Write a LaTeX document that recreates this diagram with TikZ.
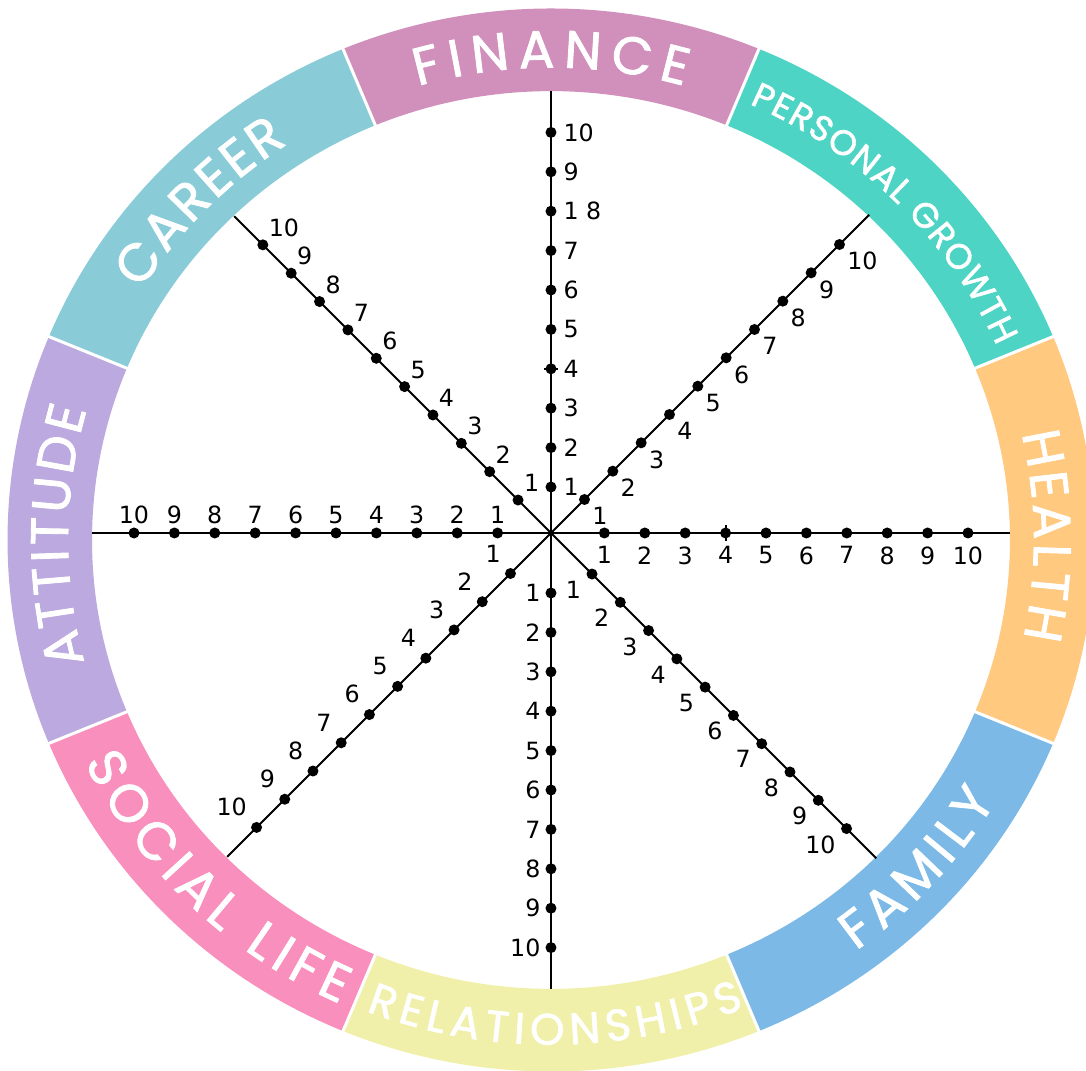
\documentclass[tikz,border=0pt]{standalone}
\usepackage{fontspec}
\usetikzlibrary{decorations.text}
\newfontfamily\ringfont[FakeBold=1.6]{Poppins}
\newfontfamily\numfont{DejaVu Sans}
\definecolor{cfin}{HTML}{D18FBB}
\definecolor{cgrowth}{HTML}{4ED4C4}
\definecolor{chealth}{HTML}{FFC980}
\definecolor{cfamily}{HTML}{7CB9E6}
\definecolor{crel}{HTML}{F0F0AA}
\definecolor{csocial}{HTML}{F98FBC}
\definecolor{catt}{HTML}{BBA9DF}
\definecolor{ccareer}{HTML}{89CCD8}
\tikzset{
  spoke/.style={line width=0.4mm},
  dot/.style={circle, fill, inner sep=0pt, minimum size=2.2mm},
  num/.style={font=\numfont\fontsize{13.5}{14}\selectfont, inner sep=0.5pt},
  gap/.style={white, line width=0.6mm},
  ringtext/.style 2 args={decorate, decoration={text along path,
    text={|\ringfont\fontsize{#2}{#2}\selectfont|#1},
    text align={fit to path}, text color=white}},
}
\begin{document}
\begin{tikzpicture}[x=0.2mm, y=0.2mm]
\path[use as bounding box] (-551,-538) rectangle (535,533);
\clip (-551,-538) rectangle (535,533);
\begin{scope}[shift={(0,-7)}, yscale=0.978]
\foreach \a/\c in {90/cfin, 45/cgrowth, 0/chealth, -45/cfamily, -90/crel, -135/csocial, 180/catt, 135/ccareer}
  \fill[\c] ({\a-22.5}:459) arc[start angle=\a-22.5, end angle=\a+22.5, radius=459]
    -- ({\a+22.5}:543.5) arc[start angle=\a+22.5, end angle=\a-22.5, radius=543.5] -- cycle;
\foreach \a in {22.5,67.5,...,337.5}
  \draw[gap] (\a:456) -- (\a:547);
% clockwise names, tops outward
\path[ringtext={FINANCE}{30}] (106:483) arc[start angle=106, end angle=74, radius=483];
\path[ringtext={PERSONAL GROWTH}{20}] (66:488) arc[start angle=66, end angle=24, radius=488];
\path[ringtext={HEALTH}{30}] (13:483) arc[start angle=13, end angle=-12, radius=483];
\path[ringtext={ATTITUDE}{30}] (195:483) arc[start angle=195, end angle=164, radius=483];
\path[ringtext={CAREER}{30}] (148:483) arc[start angle=148, end angle=123, radius=483];
% counterclockwise names, tops inward
\path[ringtext={FAMILY}{30}] (-54:519) arc[start angle=-54, end angle=-31, radius=519];
\path[ringtext={RELATIONSHIPS}{25}] (-111:516) arc[start angle=-111, end angle=-68, radius=516];
\path[ringtext={SOCIAL LIFE}{30}] (206:519) arc[start angle=206, end angle=246, radius=519];
\end{scope}
\coordinate (h) at (0,0);
\foreach \i/\ang/\off/\stp/\la/\ld/\len/\sk in {
  1/90/6.6/39.4/0/1.1/442/8,
  2/45/7.3/40.07/-45/0.7/450/0,
  3/0/13/40.4/-90/1.3/459/0,
  4/-45/18/40/210/1.1/460/0,
  5/-90/20.6/39.4/180/0.7/456/0,
  6/-135/17.4/39.9/130/1.5/458/0,
  7/180/13/40.4/90/0.5/459/0,
  8/135/6.5/40.1/55/0.5/448/0}{
  \coordinate (e\i) at (\ang:\len);
  \draw[spoke] (h) -- (e\i);
  \foreach \k in {1,...,10}
    \node[dot, label={[num, label distance=\ld mm, name=l\i-\k]\la:{\ifnum\k=\sk\relax 1 8\else\k\fi}}]
      (d\i-\k) at (\ang:{\off+\stp*\k}) {};
}
% small stray ticks
\draw[spoke] (d1-4.center) ++(-7,0) -- ++(14,0);
\draw[spoke] (d3-4.center) ++(0,-8) -- ++(0,16);
\end{tikzpicture}
\end{document}
